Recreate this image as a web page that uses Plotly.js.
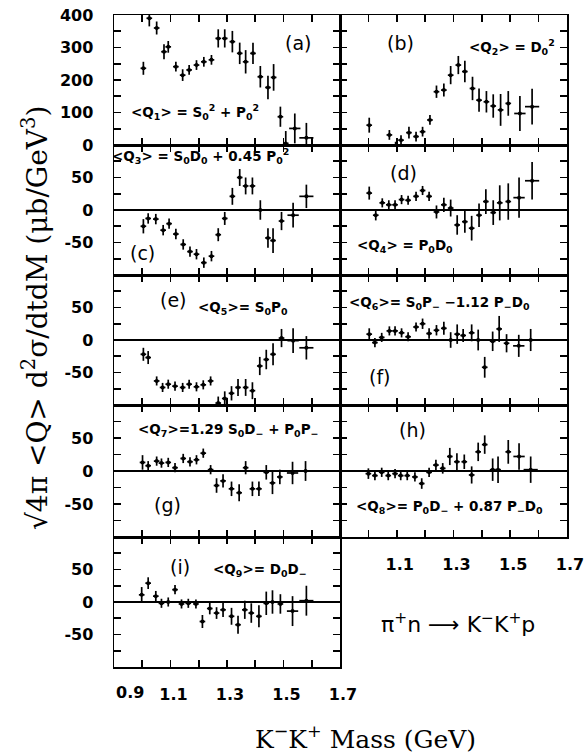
<!DOCTYPE html>
<html><head><meta charset="utf-8">
<script src="https://cdn.plot.ly/plotly-3.0.1.min.js"></script>
<style>html,body{margin:0;padding:0;background:#fff}</style>
</head><body><div id="chart" style="width:584px;height:755px"></div>
<script>
// ---------- DATA ----------
// (a) <Q1> = S0^2 + P0^2
const massA = [1.004,1.025,1.051,1.077,1.092,1.119,1.143,1.166,1.192,1.218,1.245,1.269,1.292,1.319,1.345,1.366,1.392,1.418,1.445,1.465,1.489,1.508,1.540,1.581];
const qA    = [236,390,360,287,302,241,215,231,246,256,262,328,328,318,282,256,282,210,177,208,87,5,51,22];
const errA  = [20,25,20,23,18,15,18,15,15,15,15,28,28,33,33,36,33,33,36,41,31,38,46,46];
const dmA   = [0.01,0.01,0.01,0.01,0.01,0.01,0.01,0.01,0.01,0.01,0.01,0.01,0.01,0.01,0.01,0.01,0.01,0.01,0.01,0.01,0.01,0.01,0.02,0.025];
// (b) <Q2> = D0^2
const massB = [1.003,1.027,1.047,1.074,1.096,1.115,1.143,1.168,1.191,1.217,1.240,1.266,1.290,1.317,1.340,1.367,1.390,1.416,1.440,1.466,1.493,1.534,1.577];
const qB    = [61,-13,-15,31,-10,15,38,26,41,77,164,169,215,246,226,174,138,133,120,108,128,97,118];
const errB  = [23,10,10,15,20,15,18,15,15,15,19,20,28,28,33,36,36,33,36,49,38,54,55];
// (c) <Q3> = S0D0 + 0.45 P0^2
const massC = [1.004,1.021,1.048,1.074,1.095,1.119,1.145,1.169,1.192,1.218,1.245,1.269,1.292,1.319,1.345,1.366,1.390,1.418,1.445,1.463,1.493,1.534,1.581];
const qC    = [-25,-13,-14,-31,-21,-37,-53,-64,-68,-81,-71,-38,-13,21,50,37,37,0,-43,-47,-17,-8,21];
const errC  = [11,8,8,8,8,8,8,8,8,8,8,10,10,13,13,13,13,15,15,19,14,19,18];
// (d) <Q4> = P0D0
const massD = [1.003,1.026,1.049,1.072,1.094,1.117,1.140,1.168,1.191,1.214,1.240,1.266,1.290,1.313,1.340,1.364,1.390,1.414,1.440,1.463,1.493,1.531,1.577];
const qD    = [26,-8,11,8,8,16,15,21,30,21,-3,8,3,-23,-18,-28,-8,13,-4,11,13,19,45];
const errD  = [10,8,7,7,7,7,7,7,7,7,10,11,13,15,17,19,18,19,19,27,28,31,29];
// (e) <Q5> = S0P0
const massE = [1.004,1.021,1.051,1.072,1.092,1.116,1.143,1.166,1.192,1.216,1.242,1.269,1.292,1.316,1.339,1.366,1.390,1.416,1.439,1.463,1.493,1.534,1.581];
const qE    = [-22,-27,-63,-73,-68,-71,-73,-68,-72,-69,-63,-97,-90,-82,-73,-73,-78,-40,-30,-22,3,-1,-12];
const errE  = [10,10,7,7,7,7,7,7,7,7,7,10,11,11,13,13,13,14,15,17,14,19,18];
// (f) <Q6> = S0P- - 1.12 P-D0
const massF = [1.003,1.023,1.047,1.074,1.094,1.117,1.140,1.168,1.191,1.214,1.240,1.266,1.290,1.313,1.334,1.364,1.387,1.410,1.438,1.461,1.487,1.530,1.572];
const qF    = [9,-4,4,14,14,11,5,20,25,10,15,18,0,9,7,11,0,-42,-2,17,-5,-9,0];
const errF  = [9,7,7,7,7,7,7,7,8,8,8,10,12,15,10,13,16,16,15,20,14,17,17];
// (g) <Q7> = 1.29 S0D- + P0P-
const massG = [1.001,1.021,1.051,1.068,1.092,1.116,1.145,1.169,1.192,1.216,1.242,1.263,1.286,1.316,1.343,1.366,1.390,1.413,1.439,1.461,1.487,1.532,1.578];
const qG    = [13,8,15,12,13,5,19,14,17,27,2,-22,-15,-27,-33,5,-27,-27,-2,-18,-9,-3,0];
const errG  = [11,7,7,7,7,7,7,7,7,7,7,11,10,11,13,10,11,11,11,17,11,17,15];
// (h) <Q8> = P0D- + 0.87 P-D0
const massH = [1.000,1.023,1.047,1.070,1.094,1.114,1.137,1.164,1.188,1.214,1.238,1.262,1.287,1.312,1.338,1.364,1.387,1.410,1.438,1.457,1.493,1.531,1.572];
const qH    = [-4,-7,-2,-7,-4,-7,-7,-9,-19,-2,9,4,22,14,14,-6,29,40,2,2,29,22,2];
const errH  = [8,7,7,7,7,7,7,7,8,7,8,8,13,13,11,13,14,14,17,20,18,20,20];
// (i) <Q9> = D0D-
const massI = [0.998,1.021,1.048,1.068,1.092,1.116,1.139,1.163,1.190,1.213,1.239,1.263,1.286,1.316,1.339,1.363,1.386,1.413,1.439,1.461,1.489,1.532,1.581];
const qI    = [11,29,9,-2,0,19,-3,-2,-3,-30,-10,-17,-12,-22,-35,-12,-17,-22,-2,0,-3,-14,2];
const errI  = [12,9,8,7,7,7,7,7,7,10,9,9,11,13,14,14,15,17,18,18,15,23,23];
// half bin widths (23 bins)
const dm23  = [0.01,0.01,0.01,0.01,0.01,0.01,0.01,0.01,0.01,0.01,0.01,0.01,0.01,0.01,0.01,0.01,0.01,0.01,0.01,0.01,0.01,0.02,0.025];

// tick values / labels
const massTicks = [0.9,1.0,1.1,1.2,1.3,1.4,1.5,1.6,1.7];
const massText  = ['','','1.1','','1.3','','1.5','','1.7'];
const bigTicks = [0,50,100,150,200,250,300,350,400];
const bigText  = ['0','','100','','200','','300','','400'];
const smallTicks = [-100,-75,-50,-25,0,25,50,75,100];
const smallText  = ['','','-50','','0','','50','',''];

const labelsQ = [
  '&lt;Q<sub>1</sub>&gt; = S<sub>0</sub><sup>2</sup> + P<sub>0</sub><sup>2</sup>',
  '&lt;Q<sub>2</sub>&gt; = D<sub>0</sub><sup>2</sup>',
  '&lt;Q<sub>3</sub>&gt; = S<sub>0</sub>D<sub>0</sub> + 0.45 P<sub>0</sub><sup>2</sup>',
  '&lt;Q<sub>4</sub>&gt; = P<sub>0</sub>D<sub>0</sub>',
  '&lt;Q<sub>5</sub>&gt;= S<sub>0</sub>P<sub>0</sub>',
  '&lt;Q<sub>6</sub>&gt;= S<sub>0</sub>P<sub>−</sub> −1.12 P<sub>−</sub>D<sub>0</sub>',
  '&lt;Q<sub>7</sub>&gt;=1.29 S<sub>0</sub>D<sub>−</sub> + P<sub>0</sub>P<sub>−</sub>',
  '&lt;Q<sub>8</sub>&gt;= P<sub>0</sub>D<sub>−</sub> + 0.87 P<sub>−</sub>D<sub>0</sub>',
  '&lt;Q<sub>9</sub>&gt;= D<sub>0</sub>D<sub>−</sub>'
];
const panelTags = ['(a)','(b)','(c)','(d)','(e)','(f)','(g)','(h)','(i)'];

// ---------- LAYOUT ----------
const W = 584, H = 755;
const fx = v => v / W, fy = v => 1 - v / H;
const cols = [[114, 340], [340, 567]];
const rows = [[15, 145], [145, 275], [275, 405], [405, 537], [537, 667]];

const panels = [
  {m: massA, q: qA, e: errA, d: dmA, col: 0, row: 0, big: true},
  {m: massB, q: qB, e: errB, d: dm23, col: 1, row: 0, big: true},
  {m: massC, q: qC, e: errC, d: dm23, col: 0, row: 1},
  {m: massD, q: qD, e: errD, d: dm23, col: 1, row: 1},
  {m: massE, q: qE, e: errE, d: dm23, col: 0, row: 2},
  {m: massF, q: qF, e: errF, d: dm23, col: 1, row: 2},
  {m: massG, q: qG, e: errG, d: dm23, col: 0, row: 3},
  {m: massH, q: qH, e: errH, d: dm23, col: 1, row: 3},
  {m: massI, q: qI, e: errI, d: dm23, col: 0, row: 4}
];
// label placement in pixel (page) coordinates: [tag x, tag y, formula x, formula y]
const textPos = [
  [298, 43, 195, 112],
  [400, 43, 512, 47],
  [142, 253, 200, 156],
  [403, 173, 405, 246],
  [173, 300, 243, 308],
  [380, 377, 439, 303],
  [167, 505, 228, 430],
  [412, 430, 449, 507],
  [180, 567, 260, 570]
];

const tickFont = {family: 'DejaVu Sans', size: 16, color: '#000', weight: 'bold'};
const traces = [], annotations = [];
const layout = {
  width: W, height: H, margin: {l: 0, r: 0, t: 0, b: 0},
  paper_bgcolor: '#fff', plot_bgcolor: '#fff', showlegend: false,
  font: {family: 'DejaVu Sans', color: '#000'}
};

panels.forEach((p, i) => {
  const n = i + 1, sfx = n === 1 ? '' : String(n);
  const xa = 'xaxis' + sfx, ya = 'yaxis' + sfx;
  const c = cols[p.col], r = rows[p.row];
  const bottomLabels = (i === 8) || (i === 7);
  layout[xa] = {
    domain: [fx(c[0]), fx(c[1])], range: [0.9, 1.7], anchor: 'y' + sfx,
    showline: true, linecolor: '#000', linewidth: 1.5, mirror: 'ticks',
    ticks: 'inside', ticklen: 7, tickwidth: 1.6, tickcolor: '#000',
    tickvals: massTicks, ticktext: massText, ticklabeloverflow: 'allow',
    showticklabels: bottomLabels, tickfont: tickFont, ticklabelshift: 3, ticklabelstandoff: 12,
    showgrid: false, zeroline: false, fixedrange: true
  };
  layout[ya] = {
    domain: [fy(r[1]), fy(r[0])], range: p.big ? [0, 400] : [-100, 100], anchor: 'x' + sfx,
    showline: true, linecolor: '#000', linewidth: 1.5, mirror: 'ticks',
    ticks: 'inside', ticklen: 7, tickwidth: 1.6, tickcolor: '#000',
    tickvals: p.big ? bigTicks : smallTicks, ticktext: p.big ? bigText : smallText,
    showticklabels: p.col === 0, tickfont: tickFont, ticklabelstandoff: 16,
    showgrid: false, zeroline: !p.big, zerolinecolor: '#000', zerolinewidth: 1.8, fixedrange: true
  };
  traces.push({
    type: 'scatter', mode: 'markers', x: p.m, y: p.q, xaxis: 'x' + sfx, yaxis: 'y' + sfx,
    marker: {color: '#000', size: 4},
    error_y: {type: 'data', array: p.e, visible: true, color: '#000', thickness: 1.7, width: 0},
    error_x: {type: 'data', array: p.d, visible: true, color: '#000', thickness: 1.7, width: 0},
    cliponaxis: true, hoverinfo: 'skip'
  });
  const t = textPos[i];
  annotations.push({xref: 'paper', yref: 'paper', x: fx(t[0]), y: fy(t[1]), text: panelTags[i],
    showarrow: false, xanchor: 'center', yanchor: 'middle', font: {family: 'DejaVu Sans', size: 19, color: '#000'}});
  annotations.push({xref: 'paper', yref: 'paper', x: fx(t[2]), y: fy(t[3]), text: labelsQ[i],
    showarrow: false, xanchor: 'center', yanchor: 'middle', font: {family: 'DejaVu Sans', size: 13.5, color: '#000', weight: 'bold'}});
});

// 0.9 tick label (offset in the original)
annotations.push({xref: 'x9', yref: 'paper', x: 0.9, xshift: 16, y: fy(692), text: '0.9', showarrow: false,
  xanchor: 'center', yanchor: 'middle', font: tickFont});
// axis titles
annotations.push({xref: 'paper', yref: 'paper', x: fx(365), y: fy(737),
  text: 'K<sup>−</sup>K<sup>+</sup> Mass (GeV)', showarrow: false, xanchor: 'center', yanchor: 'middle',
  font: {family: 'DejaVu Serif', size: 25, color: '#000'}});
annotations.push({xref: 'paper', yref: 'paper', x: fx(35), y: fy(318), textangle: -90,
  text: '√4π &lt;Q&gt; d<sup>2</sup>σ/dtdM (μb/GeV<sup>3</sup>)', showarrow: false,
  xanchor: 'center', yanchor: 'middle', font: {family: 'DejaVu Serif', size: 28, color: '#000'}});
// reaction
annotations.push({xref: 'paper', yref: 'paper', x: fx(458), y: fy(623),
  text: 'π<sup>+</sup>n ⟶ K<sup>−</sup>K<sup>+</sup>p', showarrow: false, xanchor: 'center', yanchor: 'middle',
  font: {family: 'DejaVu Sans', size: 22, color: '#000'}});
layout.annotations = annotations;

Plotly.newPlot('chart', traces, layout, {staticPlot: true, displayModeBar: false});
</script></body></html>
